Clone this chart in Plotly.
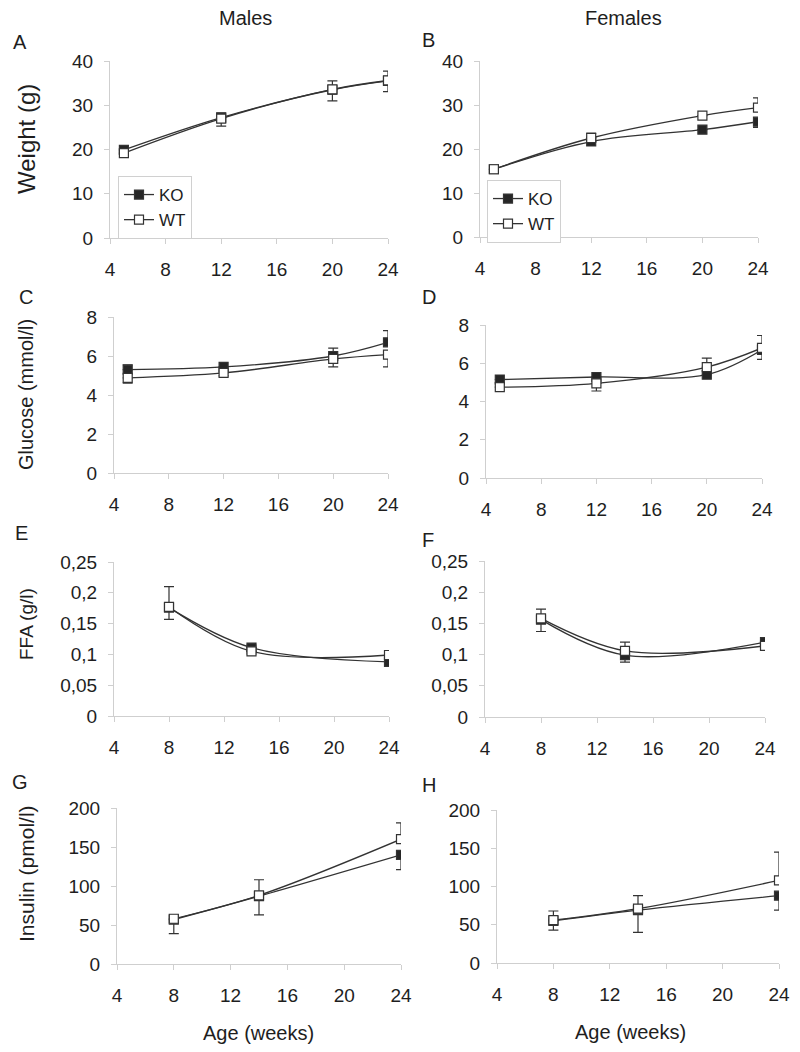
import plotly.graph_objects as go

# ages (weeks)
weeks = [5, 12, 20, 24]
weeks_late = [8, 14, 24]

# A - males, weight (g)
weight_m_ko = [19.9, 27.2, 33.5, 35.5]
weight_m_wt = [19.2, 27.0, 33.6, 35.6]
weight_m_ko_up = [0, 0, 0, 0]
weight_m_ko_dn = [0, 0, 0, 0]
weight_m_wt_up = [0, 1.3, 1.9, 2.1]
weight_m_wt_dn = [0, 1.7, 2.6, 2.5]

# B - females, weight (g)
weight_f_ko = [15.4, 21.7, 24.4, 26.2]
weight_f_wt = [15.4, 22.5, 27.6, 29.4]
weight_f_ko_up = [0, 0, 0, 0]
weight_f_ko_dn = [0, 0, 0, 1.3]
weight_f_wt_up = [0, 1.1, 0, 2.2]
weight_f_wt_dn = [0, 0, 0, 0]

# C - males, glucose (mmol/l)
glucose_m_ko = [5.3, 5.44, 6.0, 6.7]
glucose_m_wt = [4.88, 5.13, 5.85, 6.07]
glucose_m_ko_up = [0.25, 0, 0.4, 0.6]
glucose_m_ko_dn = [0, 0, 0, 0]
glucose_m_wt_up = [0, 0, 0, 0]
glucose_m_wt_dn = [0.27, 0.15, 0.41, 0.63]

# D - females, glucose (mmol/l)
glucose_f_ko = [5.15, 5.28, 5.4, 6.7]
glucose_f_wt = [4.75, 4.95, 5.8, 6.8]
glucose_f_ko_up = [0, 0, 0, 0]
glucose_f_ko_dn = [0, 0, 0, 0.5]
glucose_f_wt_up = [0, 0, 0.47, 0.65]
glucose_f_wt_dn = [0, 0.4, 0, 0]

# E - males, FFA (g/l)
ffa_m_ko = [0.176, 0.111, 0.088]
ffa_m_wt = [0.177, 0.105, 0.099]
ffa_m_ko_up = [0, 0.004, 0]
ffa_m_ko_dn = [0, 0, 0.003]
ffa_m_wt_up = [0.033, 0, 0.004]
ffa_m_wt_dn = [0.02, 0.004, 0]

# F - females, FFA (g/l)
ffa_f_ko = [0.156, 0.099, 0.12]
ffa_f_wt = [0.158, 0.106, 0.114]
ffa_f_ko_up = [0, 0, 0.003]
ffa_f_ko_dn = [0, 0.011, 0]
ffa_f_wt_up = [0.015, 0.014, 0]
ffa_f_wt_dn = [0.021, 0, 0.003]

# G - males, insulin (pmol/l)
insulin_m_ko = [57, 87, 140]
insulin_m_wt = [58, 88, 160]
insulin_m_ko_up = [0, 0, 0]
insulin_m_ko_dn = [0, 24, 19]
insulin_m_wt_up = [0, 20, 21]
insulin_m_wt_dn = [19, 0, 0]

# H - females, insulin (pmol/l)
insulin_f_ko = [55, 69, 88]
insulin_f_wt = [56, 71, 108]
insulin_f_ko_up = [0, 0, 0]
insulin_f_ko_dn = [12, 29, 19]
insulin_f_wt_up = [12, 17, 37]
insulin_f_wt_dn = [0, 0, 0]

ffa_ticks = [0, 0.05, 0.1, 0.15, 0.2, 0.25]
ffa_ticktext = ["0", "0,05", "0,1", "0,15", "0,2", "0,25"]

panels = [
    # letter, x, ko, wt, ko_up, ko_dn, wt_up, wt_dn, yrange, dtick, ytitle
    ("A", weeks, weight_m_ko, weight_m_wt, weight_m_ko_up, weight_m_ko_dn, weight_m_wt_up, weight_m_wt_dn, [0, 40], 10, "Weight (g)"),
    ("B", weeks, weight_f_ko, weight_f_wt, weight_f_ko_up, weight_f_ko_dn, weight_f_wt_up, weight_f_wt_dn, [0, 40], 10, None),
    ("C", weeks, glucose_m_ko, glucose_m_wt, glucose_m_ko_up, glucose_m_ko_dn, glucose_m_wt_up, glucose_m_wt_dn, [0, 8], 2, "Glucose (mmol/l)"),
    ("D", weeks, glucose_f_ko, glucose_f_wt, glucose_f_ko_up, glucose_f_ko_dn, glucose_f_wt_up, glucose_f_wt_dn, [0, 8], 2, None),
    ("E", weeks_late, ffa_m_ko, ffa_m_wt, ffa_m_ko_up, ffa_m_ko_dn, ffa_m_wt_up, ffa_m_wt_dn, [0, 0.25], None, "FFA (g/l)"),
    ("F", weeks_late, ffa_f_ko, ffa_f_wt, ffa_f_ko_up, ffa_f_ko_dn, ffa_f_wt_up, ffa_f_wt_dn, [0, 0.25], None, None),
    ("G", weeks_late, insulin_m_ko, insulin_m_wt, insulin_m_ko_up, insulin_m_ko_dn, insulin_m_wt_up, insulin_m_wt_dn, [0, 200], 50, "Insulin (pmol/l)"),
    ("H", weeks_late, insulin_f_ko, insulin_f_wt, insulin_f_ko_up, insulin_f_ko_dn, insulin_f_wt_up, insulin_f_wt_dn, [0, 200], 50, None),
]

W, H = 800, 1052
OFF = 8  # the page body margin shifts the figure by 8px

def px(x):
    return (x - OFF) / W

def py(y):
    return 1 - (y - OFF) / H

# plot area boxes in screen pixels: left, right, top, bottom
boxes = [
    (110, 388, 61, 238), (480, 758, 61, 237),
    (114, 388, 317, 473), (486, 762, 325, 478),
    (114, 389, 562, 716), (485, 765, 561, 717),
    (117, 401, 808, 964), (497, 779, 810, 963),
]
letter_pos = [(20, 42), (428, 40), (26, 297), (429, 297),
              (21, 533), (428, 540), (20, 782), (429, 785)]
# y title: font size, vertical centre (screen px)
title_fmt = {"Weight (g)": (24, 139), "Glucose (mmol/l)": (20, 395),
             "FFA (g/l)": (19, 624), "Insulin (pmol/l)": (21, 874)}

FONT = "Liberation Sans, Arial, sans-serif"
INK = "#1e1e1e"
LINE = "#333333"
AXIS = "#cfcfcf"

fig = go.Figure()
layout = {}
annotations = []

for i, (letter, x, ko, wt, ko_up, ko_dn, wt_up, wt_dn, yr, dt, ytitle) in enumerate(panels):
    n = i + 1
    xa = "x" if n == 1 else f"x{n}"
    ya = "y" if n == 1 else f"y{n}"
    legend_name = "legend" if n == 1 else ("legend2" if n == 2 else None)
    for name, y, up, dn, fill in [("KO", ko, ko_up, ko_dn, "#262626"), ("WT", wt, wt_up, wt_dn, "white")]:
        fig.add_trace(go.Scatter(
            x=x, y=y, name=name, mode="lines+markers",
            xaxis=xa, yaxis=ya,
            line=dict(color=LINE, width=1.3, shape="spline", smoothing=1),
            marker=dict(symbol="square", size=9, color=fill, line=dict(color=LINE, width=1.2)),
            error_y=dict(type="data", symmetric=False, array=up, arrayminus=dn,
                         color=LINE, thickness=1.2, width=5),
            showlegend=legend_name is not None,
            legend=legend_name if legend_name else "legend",
        ))

    l, r, t, b = boxes[i]
    xkey = "xaxis" if n == 1 else f"xaxis{n}"
    ykey = "yaxis" if n == 1 else f"yaxis{n}"
    layout[xkey] = dict(
        domain=[px(l), px(r)], anchor=ya, range=[4, 24], tick0=4, dtick=4,
        automargin=False,
        showgrid=False, zeroline=False, showline=True, linecolor=AXIS, linewidth=1,
        ticks="outside", ticklen=5, tickcolor=AXIS, ticklabelstandoff=9,
        tickfont=dict(family=FONT, size=19, color=INK),
    )
    yax = dict(
        domain=[py(b), py(t)], anchor=xa, range=yr,
        automargin=False,
        showgrid=False, zeroline=False, showline=True, linecolor=AXIS, linewidth=1,
        ticks="outside", ticklen=5, tickcolor=AXIS, ticklabelstandoff=7,
        tickfont=dict(family=FONT, size=19, color=INK),
    )
    if dt is None:
        yax.update(tickmode="array", tickvals=ffa_ticks, ticktext=ffa_ticktext)
    else:
        yax.update(tick0=0, dtick=dt)
    layout[ykey] = yax

    lx, ly = letter_pos[i]
    annotations.append(dict(text=letter, x=px(lx), y=py(ly), xref="paper", yref="paper",
                            showarrow=False, xanchor="center", yanchor="middle",
                            font=dict(family=FONT, size=20, color=INK)))
    if ytitle:
        size, cy = title_fmt[ytitle]
        annotations.append(dict(text=ytitle, x=px(26), y=py(cy), xref="paper", yref="paper",
                                showarrow=False, textangle=-90, xanchor="center", yanchor="middle",
                                font=dict(family=FONT, size=size, color=INK)))

for text, cx, cy in [("Males", 245, 18), ("Females", 623, 18),
                     ("Age (weeks)", 258, 1033), ("Age (weeks)", 630, 1032)]:
    annotations.append(dict(text=text, x=px(cx), y=py(cy), xref="paper", yref="paper",
                            showarrow=False, xanchor="center", yanchor="middle",
                            font=dict(family=FONT, size=20, color=INK)))

legend_style = dict(bgcolor="white", bordercolor="#d0d0d0", borderwidth=1,
                    font=dict(family=FONT, size=17, color=INK),
                    xanchor="left", yanchor="top", tracegroupgap=0, itemwidth=30,
                    entrywidth=60)
fig.update_layout(
    width=W, height=H,
    margin=dict(l=0, r=0, t=0, b=0, autoexpand=False),
    paper_bgcolor="white", plot_bgcolor="white",
    separators=", ",
    annotations=annotations,
    legend=dict(x=px(118), y=py(176), **legend_style),
    legend2=dict(x=px(487), y=py(180), **legend_style),
    **layout,
)

fig.write_html("out.html")
